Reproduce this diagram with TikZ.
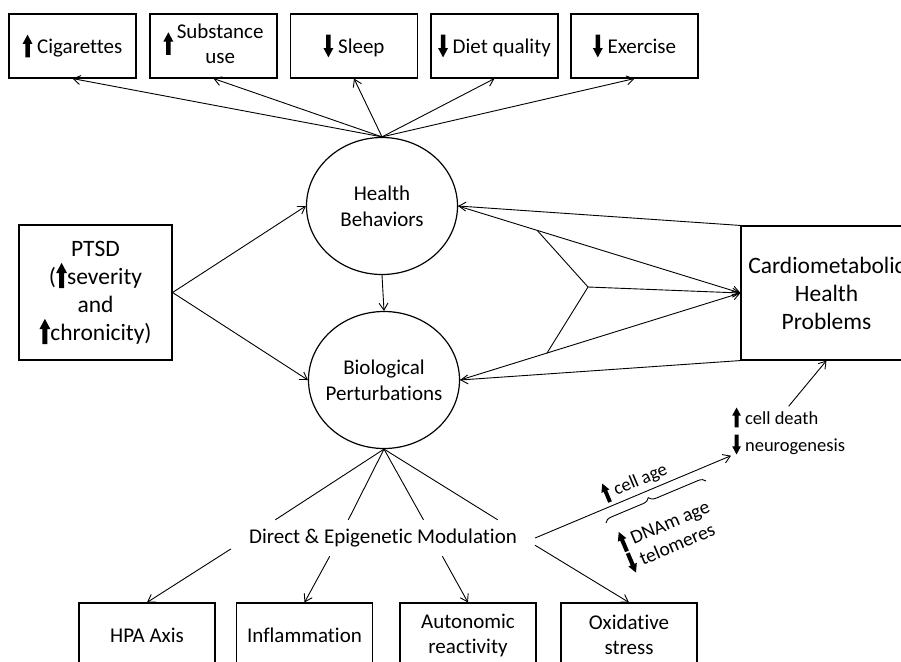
\documentclass[tikz,border=0pt]{standalone}
\usepackage{fontspec}
\setmainfont{Carlito}[Ligatures=NoCommon]
\usetikzlibrary{arrows.meta,shapes.geometric,calc,decorations.pathreplacing}

% thick block arrows used inside the labels
\newcommand{\arrowup}{\tikz[x=1em,y=1em,baseline=0pt]\fill (-0.105,-0.18) -- (-0.105,0.46) -- (-0.235,0.46) -- (0,0.9) -- (0.235,0.46) -- (0.105,0.46) -- (0.105,-0.18) -- cycle;}
\newcommand{\arrowdown}{\tikz[x=1em,y=1em,baseline=0pt]\fill (-0.105,0.9) -- (-0.105,0.26) -- (-0.235,0.26) -- (0,-0.18) -- (0.235,0.26) -- (0.105,0.26) -- (0.105,0.9) -- cycle;}

\begin{document}
\begin{tikzpicture}[x=1pt,y=-1pt,
  box/.style={draw, line width=1.1pt, inner sep=0pt, align=center,
    minimum width=127pt, minimum height=64pt, font=\fontsize{21}{25}\selectfont},
  lowbox/.style={box, minimum width=136pt},
  bigbox/.style={draw, line width=1.1pt, inner sep=0pt, align=center,
    font=\fontsize{23.5}{28}\selectfont},
  blob/.style={draw, ellipse, line width=1.2pt, minimum width=151pt,
    minimum height=137pt, inner xsep=-14pt, inner ysep=0pt, align=center,
    font=\fontsize{21}{26}\selectfont},
  link/.style={line width=0.9pt, -{Straight Barb[length=7pt,width=9pt]}},
  plain/.style={line width=0.9pt},
  note/.style={font=\fontsize{18.5}{27}\selectfont, inner sep=1pt, align=left},
]
\useasboundingbox (0,0) rectangle (901,661);
\clip (0,0) rectangle (901,661);

% behaviour boxes along the top
\node[box] (cig)   at (72.5,46)  {\arrowup\ Cigarettes};
\node[box] (subst) at (213.5,46) {\arrowup\,\begin{tabular}{@{}c@{}}Substance\\use\end{tabular}};
\node[box] (sleep) at (354,46)   {\arrowdown\ Sleep};
\node[box] (diet)  at (494.5,46) {\arrowdown\ Diet quality};
\node[box] (exer)  at (634.5,46) {\arrowdown\ Exercise};

% the two mediators
\node[blob] (hb) at (382,206) {Health\\Behaviors};
\node[blob] (bp) at (384,380) {Biological\\Perturbations};

% exposure and outcome
\node[bigbox, minimum width=153pt, minimum height=135pt] (ptsd) at (95.5,292.5)
  {PTSD\\(\arrowup severity\\and\\\arrowup chronicity)};
\node[bigbox, minimum width=171pt, minimum height=134pt] (cmh) at (826.5,293)
  {Cardiometabolic\\Health\\Problems};

% biological pathways
\node[font=\fontsize{21}{25}\selectfont, minimum height=36pt, inner xsep=18pt, inner ysep=0pt]
  (dem) at (383,538) {Direct \& Epigenetic Modulation};
\node[lowbox] (hpa)  at (147,635)   {HPA Axis};
\node[lowbox] (infl) at (304.5,635) {Inflammation};
\node[lowbox] (auto) at (468,635)   {Autonomic\\reactivity};
\node[lowbox] (oxid) at (629,635)   {Oxidative\\stress};

\node[note, anchor=west] (cd) at (731,431) {\arrowup\ cell death\\\arrowdown\ neurogenesis};

% connectors
\foreach \t in {cig,subst,sleep,diet,exer} \draw[link] (hb.north) -- (\t.south);
\draw[link] (ptsd.east) -- (hb.west);
\draw[link] (ptsd.east) -- (bp.west);
\draw[link] (hb.south) -- (bp.north);
\draw[link] (cmh.north west) -- (hb.east);
\draw[link] (cmh.south west) -- (bp.east);
\draw[link] (hb.east) -- (cmh.west);
\draw[link] (bp.east) -- (cmh.west);
\coordinate (p1) at ($(hb.east)!0.28!(cmh.west)$);
\coordinate (p2) at ($(bp.east)!0.31!(cmh.west)$);
\coordinate (fork) at (588,287);
\draw[plain] (p1) -- (fork) -- (p2);
\draw[link] (fork) -- (cmh.west);

\foreach \f in {0.146,0.386,0.633,0.877}
  \draw[plain] (bp.south) -- ($(dem.north west)!\f!(dem.north east)$);

\draw[link] ($(dem.west)!0.6!(dem.south west)$) -- (hpa.north);
\draw[link] ($(dem.south west)!0.325!(dem.south east)$) -- (infl.north);
\draw[link] ($(dem.south west)!0.695!(dem.south east)$) -- (auto.north);
\draw[link] ($(dem.east)!0.4!(dem.south east)$) -- (oxid.north);
\draw[link] (dem.east) -- (cd.south west);
\draw[link] (cd.north) -- (cmh.south);

% ageing markers along the path to cell death
\node[note, rotate=23] (age) at (634,481) {\arrowup\ cell age};
\draw[plain, decorate, decoration={brace, amplitude=7pt, aspect=0.45}] (606,523) -- (706,481);
\node[note, rotate=23, font=\fontsize{19.5}{23}\selectfont, inner sep=0pt] (dna) at (668,535)
  {\arrowup\ DNAm age\\\arrowdown\ telomeres};
\end{tikzpicture}
\end{document}
